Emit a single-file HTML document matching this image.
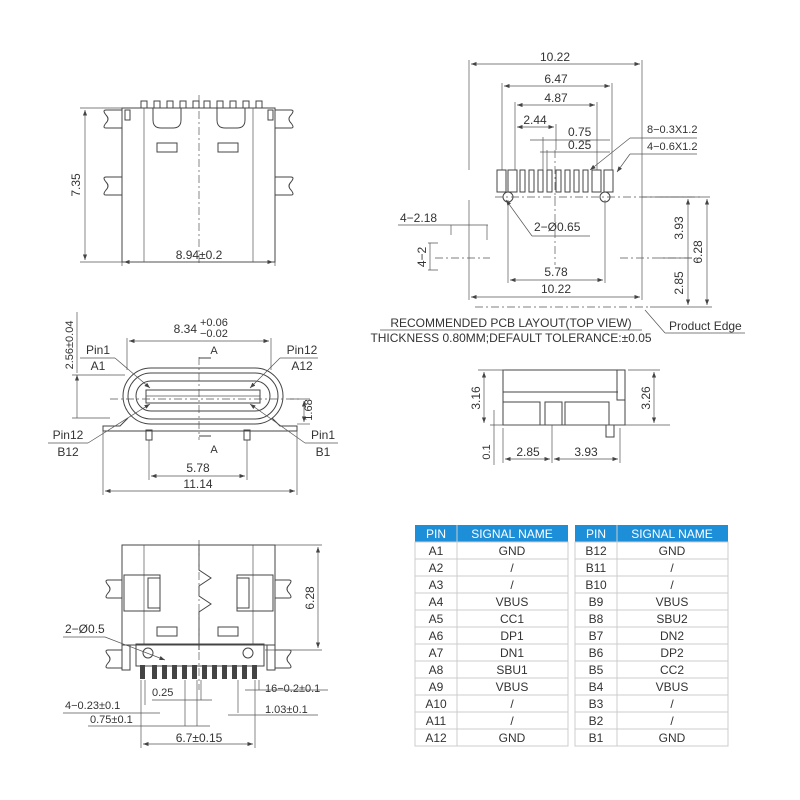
<!DOCTYPE html>
<html><head><meta charset="utf-8"><style>
body{margin:0;background:#fff}
svg{display:block}
text{font-family:"Liberation Sans",sans-serif;fill:#333}
.l{stroke:#444;stroke-width:1;fill:none}
.t{stroke:#555;stroke-width:.7;fill:none}
.d{stroke:#555;stroke-width:.7;fill:none;stroke-dasharray:8 3 2 3}
</style></head><body>
<svg width="800" height="800" viewBox="0 0 800 800" xmlns="http://www.w3.org/2000/svg">
<defs><marker id="a" markerWidth="8" markerHeight="6" refX="8" refY="3" orient="auto-start-reverse"><path d="M0,0 L8,3 L0,6z" fill="#444"/></marker></defs>

<!-- ===== Top-left view ===== -->
<g>
<rect x="122" y="108" width="153" height="154" class="l"/>
<line x1="144" y1="108" x2="144" y2="262" class="t"/><line x1="253" y1="108" x2="253" y2="262" class="t"/>
<line x1="199" y1="95" x2="199" y2="265" class="d"/>
<g class="l">
<rect x="141" y="101" width="6" height="7"/><rect x="154" y="101" width="6" height="7"/><rect x="167" y="101" width="6" height="7"/><rect x="180" y="101" width="6" height="7"/><rect x="193" y="101" width="6" height="7"/><rect x="204" y="101" width="6" height="7"/><rect x="217" y="101" width="6" height="7"/><rect x="230" y="101" width="6" height="7"/><rect x="243" y="101" width="6" height="7"/><rect x="256" y="101" width="6" height="7"/>
<path d="M153 108 v12 q0 8 8 8 h12 q8 0 8-8 v-12"/><path d="M217 108 v12 q0 8 8 8 h12 q8 0 8-8 v-12"/>
<rect x="157" y="143" width="20" height="9"/><rect x="218" y="143" width="20" height="9"/>
<path d="M122 110 h-16 q-4 0 0 5 q4 4 0 8 q-4 5 0 5 h16"/><path d="M122 177 h-16 q-4 0 0 5 q4 4 0 8 q-4 5 0 5 h16"/>
<path d="M275 110 h16 q4 0 0 5 q-4 4 0 8 q4 5 0 5 h-16"/><path d="M275 177 h16 q4 0 0 5 q-4 4 0 8 q4 5 0 5 h-16"/>
<rect x="125" y="110" width="5" height="10"/><rect x="268" y="110" width="5" height="10"/>
</g>
<line x1="80" y1="108" x2="122" y2="108" class="t"/><line x1="80" y1="262" x2="122" y2="262" class="t"/>
<line x1="85" y1="110" x2="85" y2="260" class="t" marker-start="url(#a)" marker-end="url(#a)"/>
<text x="0" y="0" font-size="12" transform="translate(80,185) rotate(-90)" text-anchor="middle">7.35</text>
<line x1="122" y1="262" x2="122" y2="266" class="t"/><line x1="275" y1="262" x2="275" y2="266" class="t"/>
<line x1="124" y1="262" x2="273" y2="262" class="t" marker-start="url(#a)" marker-end="url(#a)"/>
<text x="199" y="259" font-size="12" text-anchor="middle">8.94±0.2</text>
</g>

<!-- ===== Front view ===== -->
<g>
<rect x="123" y="368" width="160" height="56" rx="28" class="l"/>
<rect x="128" y="373" width="150" height="46" rx="23" class="l"/>
<rect x="136" y="381" width="134" height="30" rx="15" class="l"/>
<rect x="146" y="390" width="114" height="13" class="l"/>
<line x1="146" y1="396" x2="260" y2="396" class="t"/>
<path d="M128 418 l-8 8 h-17 v5 h194 v-5 h-17 l-8 -8" class="l"/>
<rect x="146" y="430" width="6" height="10" class="l"/><rect x="244" y="430" width="6" height="10" class="l"/>
<line x1="110" y1="399" x2="300" y2="399" class="d"/>
<line x1="199" y1="357" x2="199" y2="440" class="d"/>
<path d="M199 358 h12 M199 436 h12" class="l"/>
<text x="214" y="354" font-size="11" text-anchor="middle">A</text><text x="214" y="453" font-size="11" text-anchor="middle">A</text>
<line x1="127" y1="338" x2="127" y2="370" class="t"/><line x1="271" y1="338" x2="271" y2="370" class="t"/>
<line x1="129" y1="341" x2="269" y2="341" class="t" marker-start="url(#a)" marker-end="url(#a)"/>
<text x="197" y="333" font-size="12" text-anchor="end">8.34</text>
<text x="200" y="326" font-size="11">+0.06</text><text x="200" y="337" font-size="11">−0.02</text>
<line x1="77" y1="375" x2="77" y2="418" class="t" marker-start="url(#a)"/><line x1="72" y1="375" x2="125" y2="375" class="t"/><line x1="72" y1="418" x2="110" y2="418" class="t"/>
<line x1="77" y1="312" x2="77" y2="373" class="t"/>
<text font-size="11" transform="translate(73,345) rotate(-90)" text-anchor="middle">2.56±0.04</text>
<line x1="290" y1="399" x2="310" y2="399" class="t"/><line x1="297" y1="424" x2="310" y2="424" class="t"/>
<line x1="304" y1="401" x2="304" y2="422" class="t" marker-start="url(#a)" marker-end="url(#a)"/>
<text font-size="11" transform="translate(312,410) rotate(-90)" text-anchor="middle">1.68</text>
<text x="98" y="354" font-size="12" text-anchor="middle">Pin1</text><line x1="80" y1="358" x2="115" y2="358" class="t"/><text x="98" y="370" font-size="12" text-anchor="middle">A1</text>
<line x1="115" y1="358" x2="150" y2="388" class="t" marker-end="url(#a)"/>
<text x="302" y="354" font-size="12" text-anchor="middle">Pin12</text><line x1="280" y1="358" x2="318" y2="358" class="t"/><text x="302" y="370" font-size="12" text-anchor="middle">A12</text>
<line x1="280" y1="358" x2="250" y2="388" class="t" marker-end="url(#a)"/>
<text x="68" y="439" font-size="12" text-anchor="middle">Pin12</text><line x1="48" y1="443" x2="88" y2="443" class="t"/><text x="68" y="456" font-size="12" text-anchor="middle">B12</text>
<line x1="88" y1="443" x2="150" y2="404" class="t" marker-end="url(#a)"/>
<text x="323" y="439" font-size="12" text-anchor="middle">Pin1</text><line x1="305" y1="443" x2="338" y2="443" class="t"/><text x="323" y="456" font-size="12" text-anchor="middle">B1</text>
<line x1="305" y1="443" x2="250" y2="404" class="t" marker-end="url(#a)"/>
<line x1="149" y1="440" x2="149" y2="480" class="t"/><line x1="247" y1="440" x2="247" y2="480" class="t"/>
<line x1="151" y1="476" x2="245" y2="476" class="t" marker-start="url(#a)" marker-end="url(#a)"/>
<text x="198" y="472" font-size="12" text-anchor="middle">5.78</text>
<line x1="103" y1="431" x2="103" y2="495" class="t"/><line x1="297" y1="431" x2="297" y2="495" class="t"/>
<line x1="105" y1="491" x2="295" y2="491" class="t" marker-start="url(#a)" marker-end="url(#a)"/>
<text x="198" y="488" font-size="12" text-anchor="middle">11.14</text>
</g>

<!-- ===== Bottom-left view ===== -->
<g>
<rect x="122" y="545" width="153" height="100" class="l"/>
<line x1="144" y1="545" x2="144" y2="645" class="t"/><line x1="253" y1="545" x2="253" y2="645" class="t"/>
<path d="M199 545 v25 l12 8 l-12 8 v10 l12 8 l-12 8 v38" class="l"/>
<line x1="199" y1="540" x2="199" y2="690" class="d"/>
<rect x="124" y="575" width="36" height="36" class="l"/><rect x="237" y="575" width="36" height="36" class="l"/>
<rect x="148" y="578" width="12" height="30" class="l"/><rect x="237" y="578" width="12" height="30" class="l"/>
<rect x="157" y="627" width="20" height="9" class="l"/><rect x="218" y="627" width="20" height="9" class="l"/>
<rect x="136" y="644" width="128" height="22" class="l"/>
<circle cx="148" cy="653" r="5" class="l"/><circle cx="248" cy="653" r="5" class="l"/>
<g class="l">
<path d="M122 580 h-14 q-4 0 0 5 q4 4 0 8 q-4 5 0 5 h14"/><path d="M122 650 h-14 q-4 0 0 5 q4 4 0 8 q-4 5 0 5 h14"/>
<path d="M275 580 h14 q4 0 0 5 q-4 4 0 8 q4 5 0 5 h-14"/><path d="M275 650 h14 q4 0 0 5 q-4 4 0 8 q4 5 0 5 h-14"/>
<rect x="122" y="645" width="8" height="25"/><rect x="267" y="645" width="8" height="25"/>
</g>
<g fill="#444">
<rect x="140" y="665" width="5" height="14"/><rect x="152" y="665" width="5" height="14"/><rect x="162" y="665" width="5" height="14"/><rect x="172" y="665" width="5" height="14"/><rect x="182" y="665" width="5" height="14"/><rect x="192" y="665" width="5" height="14"/><rect x="202" y="665" width="5" height="14"/><rect x="212" y="665" width="5" height="14"/><rect x="222" y="665" width="5" height="14"/><rect x="232" y="665" width="5" height="14"/><rect x="242" y="665" width="5" height="14"/><rect x="252" y="665" width="5" height="14"/>
</g>
<line x1="275" y1="545" x2="322" y2="545" class="t"/><line x1="265" y1="650" x2="322" y2="650" class="t"/>
<line x1="318" y1="547" x2="318" y2="648" class="t" marker-start="url(#a)" marker-end="url(#a)"/>
<text font-size="12" transform="translate(314,598) rotate(-90)" text-anchor="middle">6.28</text>
<text x="65" y="633" font-size="12">2−Ø0.5</text><line x1="63" y1="637" x2="105" y2="637" class="t"/>
<line x1="105" y1="637" x2="165" y2="660" class="t" marker-end="url(#a)"/>
<g class="t">
<line x1="141" y1="680" x2="141" y2="748"/><line x1="145" y1="680" x2="145" y2="705"/>
<line x1="185" y1="680" x2="185" y2="726"/><line x1="197" y1="680" x2="197" y2="726"/><line x1="201" y1="680" x2="201" y2="700"/>
<line x1="238" y1="680" x2="238" y2="713"/><line x1="255" y1="680" x2="255" y2="748"/><line x1="259" y1="680" x2="259" y2="690"/>
</g>
<text x="152" y="696" font-size="11">0.25</text><line x1="152" y1="700" x2="212" y2="700" class="t"/>
<text x="65" y="709" font-size="11">4−0.23±0.1</text><line x1="63" y1="713" x2="160" y2="713" class="t"/>
<text x="90" y="723" font-size="11">0.75±0.1</text><line x1="88" y1="726" x2="210" y2="726" class="t"/>
<text x="265" y="692" font-size="11">16−0.2±0.1</text><line x1="245" y1="690" x2="328" y2="690" class="t"/>
<text x="265" y="713" font-size="11">1.03±0.1</text><line x1="228" y1="715" x2="318" y2="715" class="t"/>
<line x1="143" y1="744" x2="253" y2="744" class="t" marker-start="url(#a)" marker-end="url(#a)"/>
<text x="199" y="742" font-size="12" text-anchor="middle">6.7±0.15</text>
</g>

<!-- ===== PCB layout ===== -->
<g>
<g class="l">
<rect x="497" y="170" width="9" height="22"/><rect x="508" y="170" width="9" height="22"/>
<rect x="520" y="170" width="5" height="22"/><rect x="529" y="170" width="5" height="22"/><rect x="538" y="170" width="5" height="22"/><rect x="547" y="170" width="5" height="22"/><rect x="556" y="170" width="5" height="22"/><rect x="565" y="170" width="5" height="22"/><rect x="574" y="170" width="5" height="22"/><rect x="583" y="170" width="5" height="22"/>
<rect x="592" y="170" width="9" height="22"/><rect x="604" y="170" width="9" height="22"/>
<circle cx="508" cy="197" r="5"/><circle cx="605" cy="197" r="5"/>
</g>
<line x1="495" y1="197" x2="700" y2="197" class="d"/>
<line x1="555" y1="150" x2="555" y2="265" class="d"/>
<line x1="435" y1="258" x2="490" y2="258" class="d"/><line x1="620" y1="258" x2="700" y2="258" class="d"/>
<line x1="475" y1="307" x2="650" y2="307" class="d"/>
<g class="t">
<line x1="469" y1="60" x2="469" y2="170"/><line x1="469" y1="200" x2="469" y2="300"/>
<line x1="642" y1="60" x2="642" y2="300"/>
<line x1="502" y1="83" x2="502" y2="170"/><line x1="612" y1="83" x2="612" y2="170"/>
<line x1="515" y1="102" x2="515" y2="170"/><line x1="597" y1="102" x2="597" y2="170"/>
<line x1="556" y1="124" x2="556" y2="150"/>
<line x1="543" y1="137" x2="543" y2="170"/><line x1="547" y1="150" x2="547" y2="170"/>
<line x1="508" y1="200" x2="508" y2="283"/><line x1="605" y1="200" x2="605" y2="283"/>
</g>
<line x1="471" y1="64" x2="640" y2="64" class="t" marker-start="url(#a)" marker-end="url(#a)"/><text x="555" y="61" font-size="12" text-anchor="middle">10.22</text>
<line x1="504" y1="86" x2="610" y2="86" class="t" marker-start="url(#a)" marker-end="url(#a)"/><text x="556" y="83" font-size="12" text-anchor="middle">6.47</text>
<line x1="517" y1="105" x2="595" y2="105" class="t" marker-start="url(#a)" marker-end="url(#a)"/><text x="556" y="102" font-size="12" text-anchor="middle">4.87</text>
<line x1="517" y1="127" x2="554" y2="127" class="t" marker-start="url(#a)" marker-end="url(#a)"/><text x="535" y="124" font-size="12" text-anchor="middle">2.44</text>
<line x1="530" y1="140" x2="610" y2="140" class="t"/><text x="568" y="136" font-size="12">0.75</text>
<line x1="540" y1="152" x2="610" y2="152" class="t"/><text x="568" y="149" font-size="12">0.25</text>
<text x="647" y="133" font-size="11">8−0.3X1.2</text><line x1="630" y1="138" x2="697" y2="138" class="t"/><line x1="630" y1="138" x2="590" y2="170" class="t" marker-end="url(#a)"/>
<text x="647" y="150" font-size="11">4−0.6X1.2</text><line x1="630" y1="154" x2="697" y2="154" class="t"/><line x1="630" y1="154" x2="617" y2="172" class="t" marker-end="url(#a)"/>
<text x="534" y="231" font-size="12">2−Ø0.65</text><line x1="532" y1="236" x2="590" y2="236" class="t"/><line x1="532" y1="236" x2="506" y2="200" class="t" marker-end="url(#a)"/>
<line x1="510" y1="280" x2="603" y2="280" class="t" marker-start="url(#a)" marker-end="url(#a)"/><text x="556" y="276" font-size="12" text-anchor="middle">5.78</text>
<line x1="471" y1="297" x2="640" y2="297" class="t" marker-start="url(#a)" marker-end="url(#a)"/><text x="556" y="293" font-size="12" text-anchor="middle">10.22</text>
<text x="400" y="222" font-size="12">4−2.18</text><line x1="398" y1="225" x2="488" y2="225" class="t"/>
<line x1="451" y1="225" x2="451" y2="235" class="t"/><line x1="487" y1="225" x2="487" y2="240" class="t"/>
<path d="M428 243 h10 M428 270 h10 M430 243 v27" class="t"/>
<text font-size="12" transform="translate(426,257) rotate(-90)" text-anchor="middle">4−2</text>
<line x1="660" y1="197" x2="692" y2="197" class="t"/><line x1="650" y1="307" x2="712" y2="307" class="t"/><line x1="660" y1="258" x2="692" y2="258" class="t"/>
<line x1="688" y1="199" x2="688" y2="305" class="t" marker-start="url(#a)" marker-end="url(#a)"/>
<text font-size="12" transform="translate(683,228) rotate(-90)" text-anchor="middle">3.93</text>
<text font-size="12" transform="translate(683,283) rotate(-90)" text-anchor="middle">2.85</text>
<line x1="642" y1="197" x2="710" y2="197" class="t"/>
<line x1="707" y1="199" x2="707" y2="305" class="t" marker-start="url(#a)" marker-end="url(#a)"/>
<text font-size="12" transform="translate(702,252) rotate(-90)" text-anchor="middle">6.28</text>
<text x="511" y="327" font-size="12" text-anchor="middle">RECOMMENDED PCB LAYOUT(TOP VIEW)</text>
<line x1="380" y1="330" x2="642" y2="330" class="t"/>
<text x="511" y="342" font-size="12" text-anchor="middle">THICKNESS 0.80MM;DEFAULT TOLERANCE:±0.05</text>
<line x1="645" y1="310" x2="665" y2="333" class="t"/><line x1="665" y1="333" x2="745" y2="333" class="t"/>
<text x="669" y="330" font-size="12">Product Edge</text>
</g>

<!-- ===== Side view ===== -->
<g>
<path d="M503 370 h122 v55 h-122 z" class="l"/>
<line x1="503" y1="392" x2="618" y2="392" class="l"/>
<path d="M503 402 h37 v23 M545 425 v-23 h17 v23 M565 425 v-23 h44 v23" class="l"/>
<path d="M617 370 v30 h8" class="l"/>
<rect x="606" y="425" width="8" height="12" class="l"/>
<line x1="490" y1="425" x2="670" y2="425" class="t"/>
<line x1="478" y1="370" x2="505" y2="370" class="t"/><line x1="628" y1="370" x2="660" y2="370" class="t"/>
<line x1="484" y1="372" x2="484" y2="423" class="t" marker-start="url(#a)" marker-end="url(#a)"/>
<text font-size="12" transform="translate(480,398) rotate(-90)" text-anchor="middle">3.16</text>
<line x1="654" y1="372" x2="654" y2="423" class="t" marker-start="url(#a)" marker-end="url(#a)"/>
<text font-size="12" transform="translate(650,398) rotate(-90)" text-anchor="middle">3.26</text>
<line x1="494" y1="410" x2="494" y2="465" class="t"/>
<text font-size="11" transform="translate(490,452) rotate(-90)" text-anchor="middle">0.1</text>
<line x1="503" y1="428" x2="503" y2="463" class="t"/><line x1="552" y1="425" x2="552" y2="463" class="t"/><line x1="620" y1="428" x2="620" y2="463" class="t"/>
<line x1="505" y1="459" x2="550" y2="459" class="t" marker-start="url(#a)" marker-end="url(#a)"/><text x="528" y="456" font-size="12" text-anchor="middle">2.85</text>
<line x1="554" y1="459" x2="618" y2="459" class="t" marker-start="url(#a)" marker-end="url(#a)"/><text x="586" y="456" font-size="12" text-anchor="middle">3.93</text>
</g>

<!-- ===== Tables ===== -->
<g font-size="12">
<rect x="415" y="525" width="153" height="17" fill="#1d8fd8"/>
<rect x="575" y="525" width="153" height="17" fill="#1d8fd8"/>
<text x="436" y="538" text-anchor="middle" style="fill:#fff">PIN</text><text x="512" y="538" text-anchor="middle" style="fill:#fff">SIGNAL NAME</text>
<text x="596" y="538" text-anchor="middle" style="fill:#fff">PIN</text><text x="672" y="538" text-anchor="middle" style="fill:#fff">SIGNAL NAME</text>
<g stroke="#ccc" stroke-width="1" fill="none">
<rect x="415" y="542" width="153" height="204"/><rect x="575" y="542" width="153" height="204"/>
<line x1="457" y1="525" x2="457" y2="746"/><line x1="617" y1="525" x2="617" y2="746"/>
<path d="M415 559H568M415 576H568M415 593H568M415 610H568M415 627H568M415 644H568M415 661H568M415 678H568M415 695H568M415 712H568M415 729H568"/>
<path d="M575 559H728M575 576H728M575 593H728M575 610H728M575 627H728M575 644H728M575 661H728M575 678H728M575 695H728M575 712H728M575 729H728"/>
</g>
<g text-anchor="middle">
<text x="436" y="555">A1</text><text x="512" y="555">GND</text><text x="596" y="555">B12</text><text x="672" y="555">GND</text>
<text x="436" y="572">A2</text><text x="512" y="572">/</text><text x="596" y="572">B11</text><text x="672" y="572">/</text>
<text x="436" y="589">A3</text><text x="512" y="589">/</text><text x="596" y="589">B10</text><text x="672" y="589">/</text>
<text x="436" y="606">A4</text><text x="512" y="606">VBUS</text><text x="596" y="606">B9</text><text x="672" y="606">VBUS</text>
<text x="436" y="623">A5</text><text x="512" y="623">CC1</text><text x="596" y="623">B8</text><text x="672" y="623">SBU2</text>
<text x="436" y="640">A6</text><text x="512" y="640">DP1</text><text x="596" y="640">B7</text><text x="672" y="640">DN2</text>
<text x="436" y="657">A7</text><text x="512" y="657">DN1</text><text x="596" y="657">B6</text><text x="672" y="657">DP2</text>
<text x="436" y="674">A8</text><text x="512" y="674">SBU1</text><text x="596" y="674">B5</text><text x="672" y="674">CC2</text>
<text x="436" y="691">A9</text><text x="512" y="691">VBUS</text><text x="596" y="691">B4</text><text x="672" y="691">VBUS</text>
<text x="436" y="708">A10</text><text x="512" y="708">/</text><text x="596" y="708">B3</text><text x="672" y="708">/</text>
<text x="436" y="725">A11</text><text x="512" y="725">/</text><text x="596" y="725">B2</text><text x="672" y="725">/</text>
<text x="436" y="742">A12</text><text x="512" y="742">GND</text><text x="596" y="742">B1</text><text x="672" y="742">GND</text>
</g>
</g>
</svg>
</body></html>
